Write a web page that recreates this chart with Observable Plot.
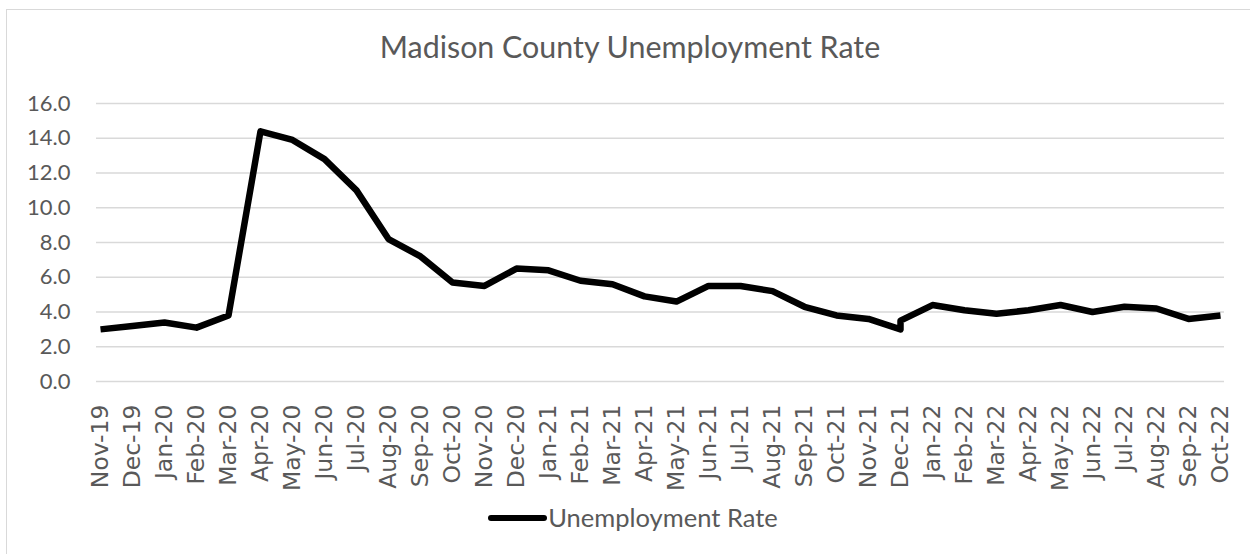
<!DOCTYPE html>
<html><head><meta charset="utf-8">
<script src="https://cdn.jsdelivr.net/npm/d3@7"></script>
<script src="https://cdn.jsdelivr.net/npm/@observablehq/plot@0.6"></script>
<style>
body{margin:0;background:#fff;}
#wrap{position:relative;width:1250px;height:554px;overflow:hidden;background:#fff;}
#frame{position:absolute;left:6px;top:9px;width:1300px;height:600px;border:1.5px solid #d9d9d9;box-sizing:border-box;}
#title{position:absolute;left:0;top:31px;width:1260px;text-align:center;font-family:Lato;font-size:30.4px;color:#595959;line-height:1;}
#chart{position:absolute;left:0;top:0;}
#legend{position:absolute;top:505px;left:0;width:1266px;display:flex;justify-content:center;align-items:center;font-family:Lato;font-size:25.5px;color:#595959;line-height:1;}
#legend svg{margin-right:1px;}
</style>
</head><body>
<div id="wrap">
  <div id="frame"></div>
  <div id="chart"></div>
  <div id="title">Madison County Unemployment Rate</div>
  <div id="legend"></div>
</div>
<script>
const months = ["Nov-19","Dec-19","Jan-20","Feb-20","Mar-20","Apr-20","May-20","Jun-20","Jul-20","Aug-20","Sep-20","Oct-20","Nov-20","Dec-20","Jan-21","Feb-21","Mar-21","Apr-21","May-21","Jun-21","Jul-21","Aug-21","Sep-21","Oct-21","Nov-21","Dec-21","Jan-22","Feb-22","Mar-22","Apr-22","May-22","Jun-22","Jul-22","Aug-22","Sep-22","Oct-22"];
const obsMonths = ["Nov-19","Dec-19","Jan-20","Feb-20","Mar-20","Apr-20","May-20","Jun-20","Jul-20","Aug-20","Sep-20","Oct-20","Nov-20","Dec-20","Jan-21","Feb-21","Mar-21","Apr-21","May-21","Jun-21","Jul-21","Aug-21","Sep-21","Oct-21","Nov-21","Dec-21","Dec-21","Jan-22","Feb-22","Mar-22","Apr-22","May-22","Jun-22","Jul-22","Aug-22","Sep-22","Oct-22"];
const rates = [3.0,3.2,3.4,3.1,3.8,14.4,13.9,12.8,11.0,8.2,7.2,5.7,5.5,6.5,6.4,5.8,5.6,4.9,4.6,5.5,5.5,5.2,4.3,3.8,3.6,3.0,3.5,4.4,4.1,3.9,4.1,4.4,4.0,4.3,4.2,3.6,3.8];
const yTicks = [0,2,4,6,8,10,12,14,16];
const seriesName = "Unemployment Rate";

const data = obsMonths.map((m,i)=>({month:m, rate:rates[i]}));

const chart = Plot.plot({
  width:1250, height:500,
  marginLeft:96, marginRight:26, marginTop:103, marginBottom:119,
  style:{background:"transparent", overflow:"visible"},
  x:{type:"point", domain:months, padding:0, label:null},
  y:{domain:[0,16], label:null},
  marks:[
    Plot.gridY(yTicks,{stroke:"#d9d9d9", strokeOpacity:1, strokeWidth:1.5}),
    Plot.axisY(yTicks,{tickSize:0, tickPadding:26, tickFormat:d=>d.toFixed(1), fontFamily:"Lato", fontSize:22, color:"#595959", label:null}),
    Plot.axisX({tickSize:0, tickRotate:-90, tickPadding:23, fontFamily:"DejaVu Sans", fontSize:23.5, color:"#595959", label:null}),
    Plot.line(data,{x:"month", y:"rate", stroke:"#000", strokeWidth:6.5, strokeLinejoin:"round", strokeLinecap:"butt", curve:"linear"})
  ]
});
document.getElementById("chart").appendChild(chart);

const lg = document.getElementById("legend");
lg.innerHTML = `<svg width="59" height="12"><line x1="3" y1="6" x2="56" y2="6" stroke="#000" stroke-width="6" stroke-linecap="round"/></svg><span>${seriesName}</span>`;
</script>
</body></html>
